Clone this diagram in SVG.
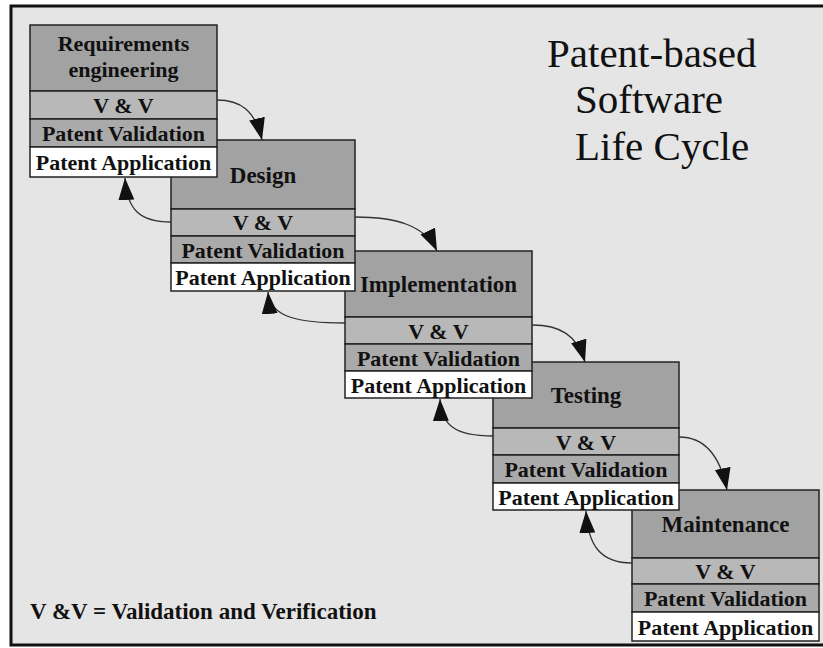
<svg xmlns="http://www.w3.org/2000/svg" width="823" height="648" viewBox="0 0 823 648">
<defs>
<style>
.bg{fill:#e5e5e5}
.frame{fill:none;stroke:#111;stroke-width:3}
.ti{fill:#a2a2a2;stroke:#222;stroke-width:1.5}
.vv{fill:#b8b8b8;stroke:#222;stroke-width:1.5}
.pv{fill:#aaaaaa;stroke:#222;stroke-width:1.5}
.pa{fill:#ffffff;stroke:#222;stroke-width:1.5}
.t{font-family:"Liberation Serif","Times New Roman",serif;font-weight:bold;fill:#111;text-anchor:middle}
.tt{font-size:23px}
.tr{font-size:22px}
.head{font-family:"Liberation Serif","Times New Roman",serif;font-size:41px;fill:#111}
.note{font-family:"Liberation Serif","Times New Roman",serif;font-weight:bold;font-size:23px;fill:#111}
.conn{fill:none;stroke:#333;stroke-width:1.3}
</style>
<marker id="ah" markerUnits="userSpaceOnUse" markerWidth="23" markerHeight="17" refX="22" refY="8" orient="auto">
<path d="M0,0 L22,8 L0,16 Z" fill="#111"/>
</marker>
</defs>
<rect x="0" y="0" width="823" height="648" fill="#ffffff"/>
<rect class="bg" x="11" y="6" width="812" height="639"/>
<path class="frame" d="M823,6 H11 V645 H823"/>

<g id="title">
<text class="head" x="547" y="67">Patent-based</text>
<text class="head" x="575" y="113">Software</text>
<text class="head" x="575" y="160">Life Cycle</text>
</g>

<g id="legend">
<text class="note" x="30" y="619">V &amp;V = Validation and Verification</text>
</g>

<g id="maintenance">
<rect class="ti" x="632" y="490" width="187" height="68"/>
<rect class="vv" x="632" y="558" width="187" height="26"/>
<rect class="pv" x="632" y="584" width="187" height="28"/>
<rect class="pa" x="632" y="612" width="187" height="29"/>
<text class="t tt" x="725.5" y="532">Maintenance</text>
<text class="t tr" x="725.5" y="579">V &amp; V</text>
<text class="t tr" x="725.5" y="606">Patent Validation</text>
<text class="t tr" x="725.5" y="634.5">Patent Application</text>
</g>

<g id="testing">
<rect class="ti" x="493" y="362" width="186" height="66"/>
<rect class="vv" x="493" y="428" width="186" height="27"/>
<rect class="pv" x="493" y="455" width="186" height="28"/>
<rect class="pa" x="493" y="483" width="186" height="27"/>
<text class="t tt" x="586" y="403">Testing</text>
<text class="t tr" x="586" y="449.5">V &amp; V</text>
<text class="t tr" x="586" y="477">Patent Validation</text>
<text class="t tr" x="586" y="504.5">Patent Application</text>
</g>

<g id="implementation">
<rect class="ti" x="345" y="251" width="187" height="66"/>
<rect class="vv" x="345" y="317" width="187" height="27"/>
<rect class="pv" x="345" y="344" width="187" height="27"/>
<rect class="pa" x="345" y="371" width="187" height="27"/>
<text class="t tt" x="438.5" y="292">Implementation</text>
<text class="t tr" x="438.5" y="338.5">V &amp; V</text>
<text class="t tr" x="438.5" y="365.5">Patent Validation</text>
<text class="t tr" x="438.5" y="392.5">Patent Application</text>
</g>

<g id="design">
<rect class="ti" x="171" y="140" width="184" height="69"/>
<rect class="vv" x="171" y="209" width="184" height="27"/>
<rect class="pv" x="171" y="236" width="184" height="27"/>
<rect class="pa" x="171" y="263" width="184" height="28"/>
<text class="t tt" x="263" y="183">Design</text>
<text class="t tr" x="263" y="230">V &amp; V</text>
<text class="t tr" x="263" y="257.5">Patent Validation</text>
<text class="t tr" x="263" y="285">Patent Application</text>
</g>

<g id="requirements">
<rect class="ti" x="30" y="25" width="187" height="66"/>
<rect class="vv" x="30" y="91" width="187" height="28"/>
<rect class="pv" x="30" y="119" width="187" height="28"/>
<rect class="pa" x="30" y="147" width="187" height="30"/>
<text class="t" style="font-size:22px" x="123.5" y="51">Requirements</text>
<text class="t" style="font-size:22px" x="123.5" y="77">engineering</text>
<text class="t tr" x="123.5" y="113">V &amp; V</text>
<text class="t tr" x="123.5" y="141">Patent Validation</text>
<text class="t tr" x="123.5" y="170">Patent Application</text>
</g>

<g id="connectors">
<path class="conn" marker-end="url(#ah)" d="M217,100 C240,100 255,110 262,140"/>
<path class="conn" marker-end="url(#ah)" d="M355,217 C395,217 425,225 437,251"/>
<path class="conn" marker-end="url(#ah)" d="M532,325 C560,325 577,335 585,362"/>
<path class="conn" marker-end="url(#ah)" d="M679,437 C705,437 720,455 727,490"/>
<path class="conn" marker-end="url(#ah)" d="M171,222 C140,222 127,210 125,178"/>
<path class="conn" marker-end="url(#ah)" d="M345,323 C300,323 270,318 268,292"/>
<path class="conn" marker-end="url(#ah)" d="M493,436 C455,436 441,425 440,399"/>
<path class="conn" marker-end="url(#ah)" d="M632,563 C600,563 588,545 586,511"/>
</g>
</svg>
